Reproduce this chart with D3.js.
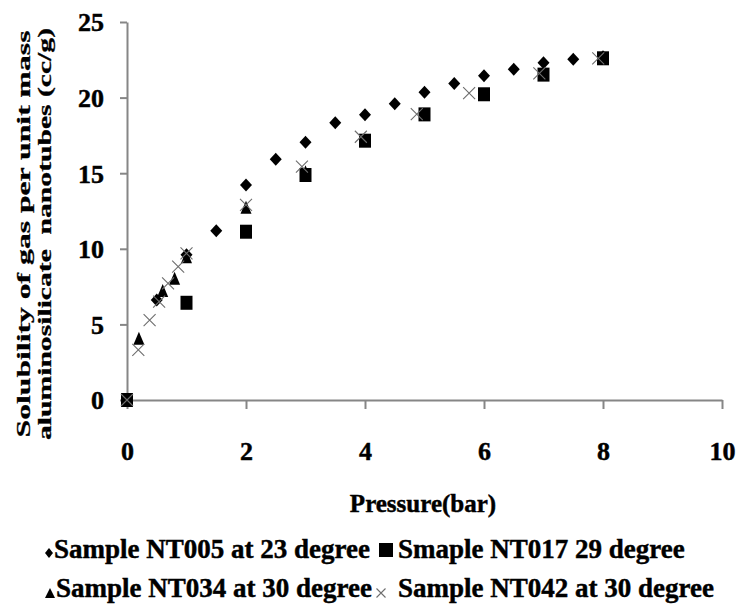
<!DOCTYPE html>
<html lang="en">
<head>
  <meta charset="UTF-8" />
  <title>Solubility vs Pressure</title>
  <script src="https://d3js.org/d3.v7.min.js"></script>
  <style>
    body {
      margin: 0;
      background: #fff;
    }
    svg {
      display: block;
      font-family: "Liberation Serif", "Times New Roman", serif;
      font-weight: bold;
    }
    svg text {
      stroke: #000;
      stroke-width: 0.45px;
    }
  </style>
</head>
<body>
  <div id="chart"></div>
  <script>
    // Sample NT005 at 23 degree (diamonds)
    const nt005Pressure = [0, 0.5, 1, 1.5, 2, 2.5, 3, 3.5, 4, 4.5, 5, 5.5, 6, 6.5, 7, 7.5, 8];
    const nt005Solubility = [0, 6.61, 9.6, 11.2, 14.22, 15.92, 17.04, 18.34, 18.87, 19.6, 20.35, 20.94, 21.45, 21.87, 22.31, 22.53, 22.7];

    // Smaple NT017 29 degree (squares)
    const nt017Pressure = [0, 1, 2, 3, 4, 5, 6, 7, 8];
    const nt017Solubility = [0, 6.43, 11.13, 14.88, 17.15, 18.89, 20.22, 21.52, 22.6];

    // Sample NT034 at 30 degree (triangles)
    const nt034Pressure = [0, 0.2, 0.6, 0.8, 1, 2, 3];
    const nt034Solubility = [0, 4.08, 7.25, 8.05, 9.48, 12.74, 15.1];

    // Sample NT042 at 30 degree (crosses)
    const nt042Pressure = [0, 0.19, 0.38, 0.54, 0.69, 0.86, 1, 2, 2.94, 3.93, 4.87, 5.75, 6.93, 7.92];
    const nt042Solubility = [0, 3.31, 5.29, 6.5, 7.72, 8.82, 9.7, 12.9, 15.43, 17.41, 18.9, 20.3, 21.6, 22.6];

    const xTicks = [0, 2, 4, 6, 8, 10];
    const yTicks = [0, 5, 10, 15, 20, 25];

    const seriesNames = [
      "Sample NT005 at 23 degree",
      "Smaple NT017 29 degree",
      "Sample NT034 at 30 degree",
      "Sample NT042 at 30 degree"
    ];

    const width = 739;
    const height = 609;
    const axisColor = "#868686";
    const serif = '"Liberation Serif", "Times New Roman", serif';

    const x = d3.scaleLinear().domain([0, 10]).range([127, 722]);
    const y = d3.scaleLinear().domain([0, 25]).range([400, 22]);

    const svg = d3.select("#chart")
      .append("svg")
      .attr("width", width)
      .attr("height", height);

    // marker shapes, centred at 0,0
    const shapes = {
      diamond: (w, h) => `M0,${-h / 2}L${w / 2},0L0,${h / 2}L${-w / 2},0Z`,
      square: (w, h) => `M${-w / 2},${-h / 2}h${w}v${h}h${-w}Z`,
      triangle: (w, h) => `M0,${-h / 2}L${w / 2},${h / 2}L${-w / 2},${h / 2}Z`,
      cross: (w, h) => `M${-w / 2},${-h / 2}L${w / 2},${h / 2}M${w / 2},${-h / 2}L${-w / 2},${h / 2}`
    };

    const series = [
      { xs: nt005Pressure, ys: nt005Solubility, shape: "diamond", w: 12, h: 13 },
      { xs: nt017Pressure, ys: nt017Solubility, shape: "square", w: 12, h: 14 },
      { xs: nt034Pressure, ys: nt034Solubility, shape: "triangle", w: 11, h: 13 },
      { xs: nt042Pressure, ys: nt042Solubility, shape: "cross", w: 12, h: 12 }
    ];

    function styleMark(sel, shape) {
      if (shape === "cross") {
        sel.attr("fill", "none").attr("stroke", "#6e6e6e").attr("stroke-width", 1.1);
      } else {
        sel.attr("fill", "#000");
      }
    }

    // axes
    const yAxis = svg.append("g")
      .attr("transform", `translate(${x(0)},0)`)
      .call(d3.axisLeft(y).tickValues(yTicks).tickSize(7).tickSizeOuter(0).tickPadding(16));

    const xAxis = svg.append("g")
      .attr("transform", `translate(0,${y(0)})`)
      .call(d3.axisBottom(x).tickValues(xTicks).tickSize(9).tickSizeOuter(0).tickPadding(33));

    for (const g of [xAxis, yAxis]) {
      g.attr("font-family", null).attr("font-size", null);
      g.select(".domain").attr("stroke", axisColor).attr("stroke-width", 2);
      g.selectAll(".tick line").attr("stroke", axisColor).attr("stroke-width", 2);
      g.selectAll(".tick text")
        .attr("fill", "#000")
        .attr("font-family", serif)
        .attr("font-weight", "bold")
        .attr("font-size", 26);
    }
    yAxis.selectAll(".tick text").attr("dy", "0.34em");

    // points
    series.forEach(s => {
      const pts = s.xs.map((v, i) => [v, s.ys[i]]);
      svg.append("g")
        .selectAll("path")
        .data(pts)
        .join("path")
        .attr("transform", d => `translate(${x(d[0])},${y(d[1])})`)
        .attr("d", shapes[s.shape](s.w, s.h))
        .call(styleMark, s.shape);
    });

    // x axis title
    svg.append("text")
      .attr("x", 423)
      .attr("y", 512)
      .attr("text-anchor", "middle")
      .attr("font-size", 25)
      .text("Pressure(bar)");

    // y axis title, two lines
    const yTitle = [
      { text: "Solubility of gas per unit mass", base: 30, len: 407 },
      { text: "aluminosilicate  nanotubes (cc/g)", base: 51, len: 412 }
    ];
    yTitle.forEach(t => {
      svg.append("text")
        .attr("transform", `translate(${t.base},234) rotate(-90) scale(1,0.62)`)
        .attr("text-anchor", "middle")
        .attr("textLength", t.len)
        .attr("lengthAdjust", "spacingAndGlyphs")
        .attr("font-size", 31)
        .style("white-space", "pre")
        .text(t.text);
    });

    // legend
    const legendItems = [
      { name: seriesNames[0], shape: "diamond", w: 8, h: 10, mx: 49, my: 553, tx: 54, ty: 558 },
      { name: seriesNames[1], shape: "square", w: 14, h: 14, mx: 386, my: 550, tx: 398, ty: 558 },
      { name: seriesNames[2], shape: "triangle", w: 10, h: 10, mx: 50, my: 593, tx: 56, ty: 597 },
      { name: seriesNames[3], shape: "cross", w: 9, h: 9, mx: 381, my: 593, tx: 398, ty: 597 }
    ];

    const legend = svg.append("g");
    legendItems.forEach(item => {
      legend.append("path")
        .attr("transform", `translate(${item.mx},${item.my})`)
        .attr("d", shapes[item.shape](item.w, item.h))
        .call(styleMark, item.shape);
      legend.append("text")
        .attr("x", item.tx)
        .attr("y", item.ty)
        .attr("font-size", 27)
        .text(item.name);
    });
  </script>
</body>
</html>
